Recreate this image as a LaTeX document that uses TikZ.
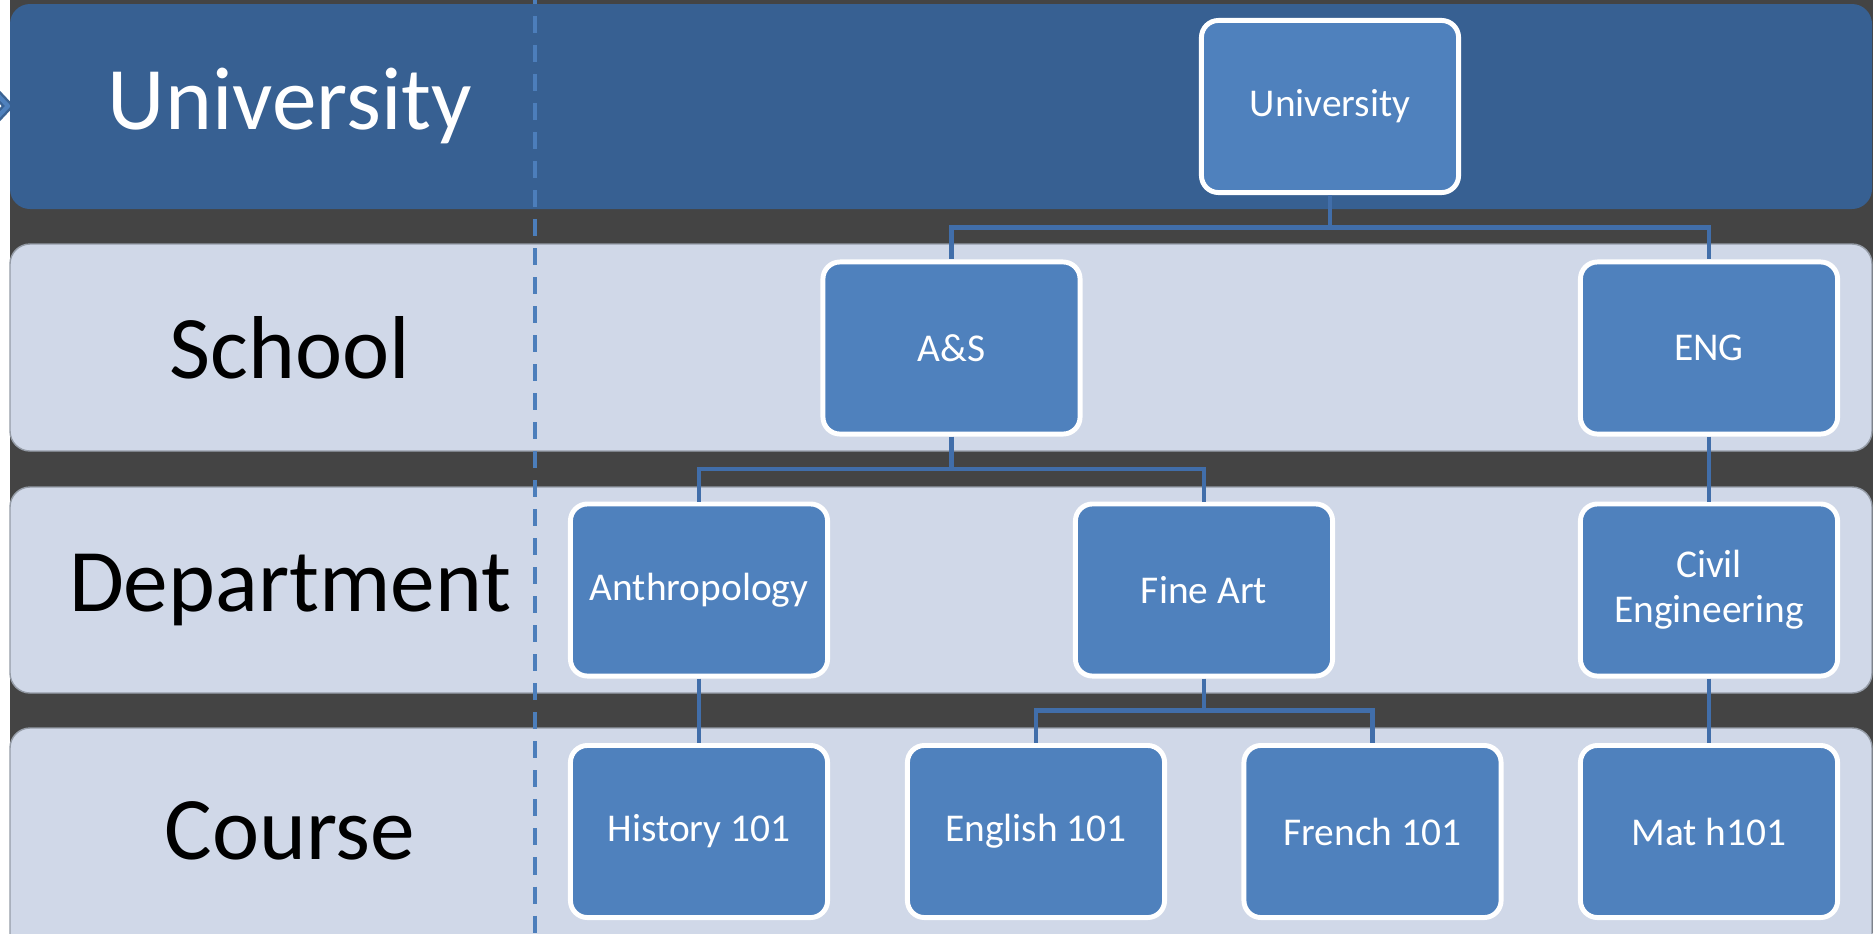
\documentclass[tikz,border=0pt]{standalone}
\usepackage{fontspec}
\setmainfont{Carlito}
\usetikzlibrary{calc}
\definecolor{darkbg}{HTML}{444444}
\definecolor{uband}{HTML}{376092}
\definecolor{lband}{HTML}{D0D8E8}
\definecolor{lbandedge}{HTML}{959CA7}
\definecolor{nodefill}{HTML}{4F81BD}
\definecolor{conn}{HTML}{416EAA}
\definecolor{dashc}{HTML}{4C7EBB}
\definecolor{chevdark}{HTML}{3A6394}
\begin{document}
\begin{tikzpicture}[x=0.01cm,y=-0.01cm,
  unit/.style={draw=white, line width=1.4pt, fill=nodefill, rounded corners=0.17cm,
    minimum width=2.57cm, minimum height=1.72cm, inner sep=0pt, text=white,
    align=center, font=\fontsize{11.2}{12.8}\selectfont},
  bandlabel/.style={inner sep=0pt, font=\fontsize{25.4}{30}\selectfont},
  conline/.style={draw=conn, line width=1.4pt},
  bandU/.style={fill=uband, rounded corners=0.2cm},
  bandL/.style={fill=lband, draw=lbandedge, line width=0.4pt, rounded corners=0.2cm},
  dashline/.style={draw=dashc, line width=1.25pt, dash pattern=on 0.17cm off 0.12cm, dash phase=0.13cm},
  chevout/.style={draw=chevdark, line width=2.6pt},
  chevin/.style={draw=nodefill, line width=1.2pt}
]
\useasboundingbox (0,0) rectangle (1873,933);
\fill[white] (0,0) rectangle (1873,933);
\fill[darkbg] (10,0) rectangle (1873,933);
\begin{scope}
\clip (0,0) rectangle (1873,933);
% chevron at left edge
\coordinate (cvA) at (-8,89);
\coordinate (cvB) at (8,106);
\coordinate (cvC) at (-8,123);
\draw[chevout] (cvA) -- (cvB) -- (cvC);
\draw[chevin] (cvA) -- (cvB) -- (cvC);
% bands
\path[bandU] (10,4) rectangle (1872,209);
\path[bandL] (10,244) rectangle (1872,451);
\path[bandL] (10,487) rectangle (1872,693);
\path[bandL] (10,728) rectangle (1872,960);
\end{scope}
% dashed separator
\coordinate (dtop) at (535,0);
\coordinate (dbot) at (535,933);
\draw[dashline] (dtop) -- (dbot);
% band labels
\node[bandlabel, text=white] (lU) at (290,106) {University};
\node[bandlabel] (lS) at (290,348) {School};
\node[bandlabel] (lD) at (290,590) {Department};
\node[bandlabel] (lC) at (290,831) {Course};
% hierarchy nodes
\node[unit] (U) at (1330,106.5) {University};
\node[unit] (AS) at (951.5,348) {A\&S};
\node[unit] (ENG) at (1709,348) {ENG};
\node[unit] (AN) at (699,590) {Anthropology};
\node[unit] (FA) at (1204,590) {Fine Art};
\node[unit] (CE) at (1709,590) {Civil\\Engineering};
\node[unit] (HI) at (699,831.5) {History 101};
\node[unit] (EN) at (1036,831.5) {English 101};
\node[unit] (FR) at (1372.5,831.5) {French 101};
\node[unit] (MA) at (1709,831.5) {Mat h101};
% connectors
\coordinate (b1) at ($(U.south)!0.5!(U.south|-AS.north)$);
\draw[conline] (U.south) -- (b1) -| (AS.north);
\draw[conline] (b1) -| (ENG.north);
\coordinate (b2) at ($(AS.south)!0.5!(AS.south|-AN.north)$);
\draw[conline] (AS.south) -- (b2) -| (AN.north);
\draw[conline] (b2) -| (FA.north);
\draw[conline] (ENG.south) -- (CE.north);
\draw[conline] (AN.south) -- (HI.north);
\coordinate (b3) at ($(FA.south)!0.5!(FA.south|-EN.north)$);
\draw[conline] (FA.south) -- (b3) -| (EN.north);
\draw[conline] (b3) -| (FR.north);
\draw[conline] (CE.south) -- (MA.north);
\end{tikzpicture}
\end{document}
